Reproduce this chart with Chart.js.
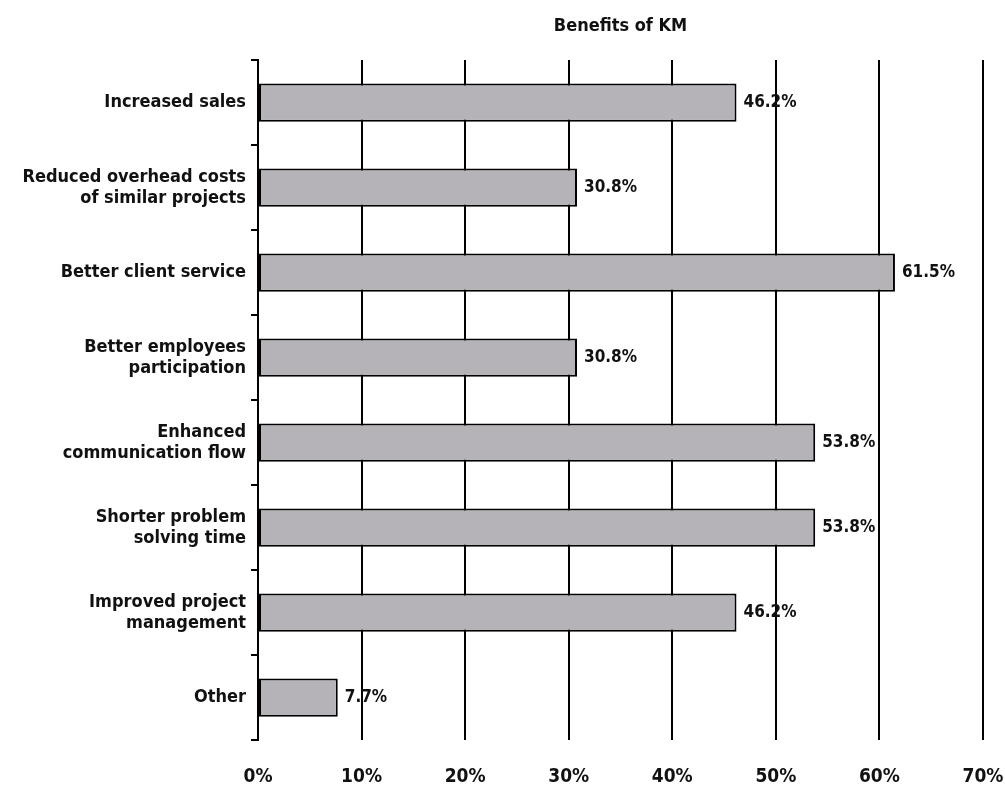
<!DOCTYPE html>
<html>
<head>
<meta charset="utf-8">
<script src="https://cdn.jsdelivr.net/npm/chart.js@4.4.1/dist/chart.umd.min.js"></script>
<style>
  html, body { margin: 0; padding: 0; background: #fff; }
  #wrap { width: 1005px; height: 789px; position: relative; }
</style>
</head>
<body>
<div id="wrap"><canvas id="chart-1"></canvas></div>
<script>
const chartTitle = 'Benefits of KM';
const categories = [
  'Increased sales',
  ['Reduced overhead costs', 'of similar projects'],
  'Better client service',
  ['Better employees', 'participation'],
  ['Enhanced', 'communication flow'],
  ['Shorter problem', 'solving time'],
  ['Improved project', 'management'],
  'Other'
];
const values = [46.2, 30.8, 61.5, 30.8, 53.8, 53.8, 46.2, 7.7];
const xTicks = [0, 10, 20, 30, 40, 50, 60, 70];

const FONT = '"DejaVu Sans Condensed", "Liberation Sans", Arial, sans-serif';

// value labels at the end of the bars + title centred over the plot
const labelPlugin = {
  id: 'valueLabels',
  afterDatasetsDraw(chart) {
    const ctx = chart.ctx;
    const meta = chart.getDatasetMeta(0);
    ctx.save();
    ctx.fillStyle = '#111';
    ctx.font = 'bold 17px ' + FONT;
    ctx.textAlign = 'left';
    ctx.textBaseline = 'middle';
    meta.data.forEach((bar, i) => {
      ctx.fillText(values[i].toFixed(1) + '%', bar.x + 7, bar.y);
    });
    const a = chart.chartArea;
    ctx.font = 'bold 18px ' + FONT;
    ctx.textAlign = 'center';
    ctx.fillText(chartTitle, (a.left + a.right) / 2, 26);
    ctx.restore();
  }
};

const data1 = {
  labels: categories,
  datasets: [{
    data: values,
    backgroundColor: '#b5b3b7',
    borderColor: '#000',
    borderWidth: 2,
    borderSkipped: false,
    categoryPercentage: 1,
    barPercentage: 0.45
  }]
};

const config1 = {
  type: 'bar',
  data: data1,
  options: {
    indexAxis: 'y',
    responsive: true,
    maintainAspectRatio: false,
    animation: false,
    layout: { padding: { top: 60, right: 22, left: 0, bottom: 0 } },
    plugins: {
      legend: { display: false },
      title: { display: false },
      tooltip: { enabled: false }
    },
    scales: {
      x: {
        min: 0,
        max: 70,
        afterBuildTicks: scale => { scale.ticks = xTicks.map(v => ({ value: v })); },
        afterFit: scale => {
          scale.height = 49;
          scale.paddingLeft = 0;
          scale.paddingRight = 0;
        },
        border: { display: false },
        grid: { color: '#000', lineWidth: 2, drawTicks: false },
        ticks: {
          padding: 26,
          color: '#111',
          font: { family: FONT, size: 19, weight: 'bold' },
          callback: v => v + '%'
        }
      },
      y: {
        afterFit: scale => { scale.width = 258; },
        border: { display: true, color: '#000', width: 2 },
        grid: { offset: true, drawOnChartArea: false, drawTicks: true, tickLength: 7, color: '#000', lineWidth: 2 },
        ticks: {
          padding: 5,
          color: '#111',
          font: { family: FONT, size: 18, weight: 'bold', lineHeight: 1.15 }
        }
      }
    }
  },
  plugins: [labelPlugin]
};

const ctx1 = document.getElementById('chart-1');
const chart1 = new Chart(ctx1, config1);
</script>
</body>
</html>
